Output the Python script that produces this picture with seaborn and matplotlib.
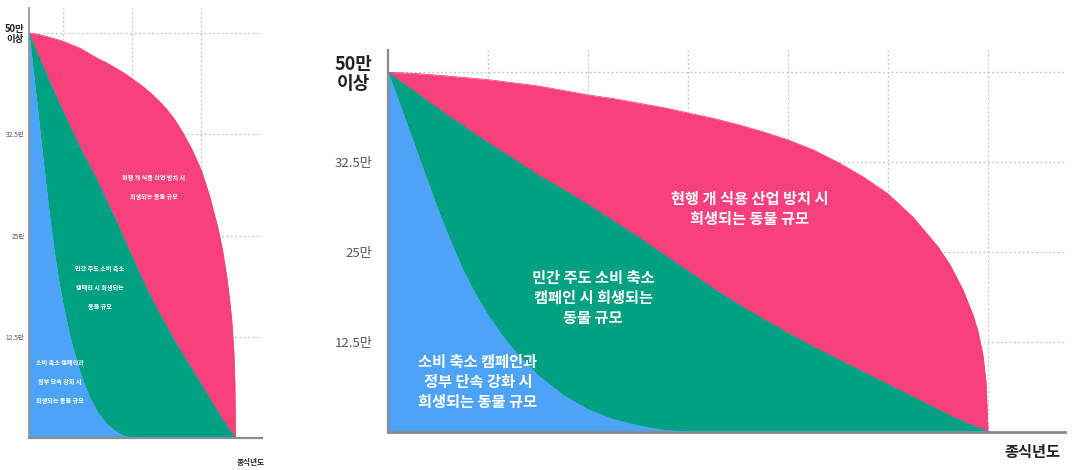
import numpy as np
import pandas as pd
import matplotlib
matplotlib.use("Agg")
import matplotlib.pyplot as plt
import seaborn as sns

# Years until the end of dog-meat consumption (x) vs. number of animals (y, tick steps)
years = [0, 0.125, 0.25, 0.375, 0.5, 0.625, 0.75, 0.875, 1, 1.125,
         1.25, 1.375, 1.5, 1.75, 2, 2.25, 2.5, 2.75, 3, 3.25,
         3.5, 3.75, 4, 4.25, 4.5, 4.75, 5, 5.25, 5.5, 5.625,
         5.75, 5.85, 5.9, 5.95, 5.98, 6]
# Campaign + stronger government enforcement
blue_vals = [4, 3.62, 3.24, 2.85, 2.47, 2.12, 1.8, 1.53, 1.3, 1.1,
             0.92, 0.77, 0.63, 0.41, 0.25, 0.14, 0.07, 0.02, 0, 0,
             0, 0, 0, 0, 0, 0, 0, 0, 0, 0,
             0, 0, 0, 0, 0, 0]
# Private-led consumption reduction campaign
green_vals = [4, 3.9, 3.8, 3.7, 3.6, 3.5, 3.41, 3.31, 3.22, 3.13,
              3.04, 2.95, 2.86, 2.7, 2.53, 2.35, 2.17, 1.98, 1.79, 1.6,
              1.42, 1.26, 1.1, 0.95, 0.81, 0.67, 0.53, 0.39, 0.25, 0.18,
              0.12, 0.07, 0.05, 0.03, 0.01, 0]
# Industry left as it is
pink_vals = [4, 3.997, 3.99, 3.98, 3.97, 3.957, 3.945, 3.933, 3.92, 3.903,
             3.885, 3.868, 3.85, 3.8, 3.75, 3.71, 3.66, 3.61, 3.55, 3.49,
             3.42, 3.34, 3.25, 3.14, 3.0, 2.84, 2.65, 2.39, 2.06, 1.85,
             1.58, 1.3, 1.12, 0.85, 0.55, 0]

ytick_pos = [1, 2, 3, 4]
ytick_labels = ["12.5만", "25만", "32.5만", "50만\n이상"]
xlabel = "종식년도"
labels = {
    "pink": "현행 개 식용 산업 방치 시\n희생되는 동물 규모",
    "green": "민간 주도 소비 축소\n캠페인 시 희생되는\n동물 규모",
    "blue": "소비 축소 캠페인과\n정부 단속 강화 시\n희생되는 동물 규모",
}
label_pos = {"pink": (3.62, 2.48), "green": (2.05, 1.49), "blue": (0.9, 0.56)}

PINK, GREEN, BLUE = "#F8407A", "#00A082", "#4DA3F8"

df = pd.DataFrame({"year": years, "blue": blue_vals,
                   "green": green_vals, "pink": pink_vals})

sns.set_theme(style="white")
plt.rcParams["font.family"] = ["Noto Sans CJK KR", "DejaVu Sans"]

fig = plt.figure(figsize=(10.72, 4.70), dpi=100)
ax_small = fig.add_axes([29 / 1072, 32 / 470, 233 / 1072, 430 / 470])
ax_big = fig.add_axes([388 / 1072, 38 / 470, 677 / 1072, 382 / 470])


def draw(ax, big):
    x = df["year"]
    ax.fill_between(x, 0, df["blue"], color=BLUE, lw=0, zorder=2)
    ax.fill_between(x, df["blue"], df["green"], color=GREEN, lw=0, zorder=2)
    ax.fill_between(x, df["green"], df["pink"], color=PINK, lw=0, zorder=2)
    for col, c in (("pink", PINK), ("green", GREEN), ("blue", BLUE)):
        sns.lineplot(data=df, x="year", y=col, ax=ax, color=c, lw=0.6,
                     zorder=3, legend=False)

    ax.set_xlim(0, 6.77)
    ax.set_ylim(0, 4.25)
    ax.set_xlabel("")
    ax.set_ylabel("")
    ax.set_axisbelow(True)
    ax.set_xticks([1, 2, 3, 4, 5, 6] if big else [1, 3, 5])
    ax.tick_params(axis="x", length=0, labelbottom=False)
    ax.set_yticks(ytick_pos)
    ax.set_yticklabels(ytick_labels)
    ax.tick_params(axis="y", length=0, pad=11 if big else 3,
                   labelsize=9.5 if big else 4.8, labelcolor="#555555")
    top = ax.get_yticklabels()[-1]
    top.set_fontweight("bold")
    top.set_fontsize(13 if big else 6.8)
    top.set_color("#222222")
    top.set_multialignment("center")
    top.set_linespacing(1.0)
    top.set_y(4.06)
    ax.grid(True, linestyle=(0, (1.5, 2)), color="#c4c4c4", lw=0.9)

    for side in ("top", "right"):
        ax.spines[side].set_visible(False)
    ax.spines["left"].set_color("#8c8c8c")
    ax.spines["left"].set_linewidth(1.6 if big else 1.2)
    ax.spines["bottom"].set_color("#8c8c8c")
    ax.spines["bottom"].set_linewidth(2.0 if big else 1.6)

    for key, (tx, ty) in label_pos.items():
        ax.text(tx, ty, labels[key], ha="center", va="center", color="white",
                fontweight="bold", fontsize=11 if big else 4.4,
                linespacing=1.3 if big else 3.0, zorder=5)

    ax.text(6.44, -0.22 if big else -0.24, xlabel, ha="center", va="center",
            fontweight="bold", fontsize=11 if big else 5.5, color="#222222",
            clip_on=False)


draw(ax_small, False)
draw(ax_big, True)

fig.savefig("out.png", dpi=100, facecolor="white")
